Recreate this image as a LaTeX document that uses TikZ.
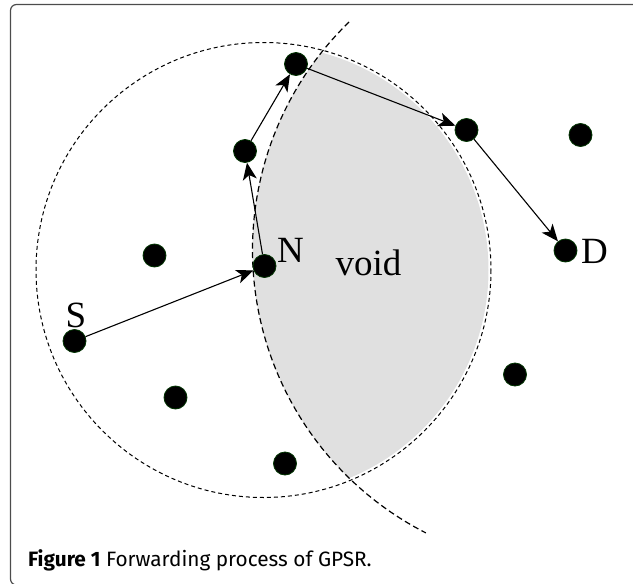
\documentclass[tikz,border=0pt]{standalone}
\usepackage{fontspec}
\setmainfont{Liberation Serif}
\newfontfamily\capfont{Fira Sans}
\usetikzlibrary{arrows.meta}
\begin{document}
\begin{tikzpicture}[
    x=1pt, y=-1pt,
    dot/.style={circle, fill=black, draw=green!20!black, line width=0.8pt,
                minimum size=23pt, inner sep=0pt},
    lbl/.style={font=\fontsize{37}{37}\selectfont, anchor=base, inner sep=0pt},
    hop/.style={-{Stealth[length=17pt, width=14pt, inset=4.5pt]}, line width=1.1pt},
    radio/.style={dash pattern=on 4pt off 3pt, line width=1pt},
    bound/.style={dash pattern=on 6pt off 3.5pt, line width=1.2pt},
]
\useasboundingbox (0,0) rectangle (633,584);
\begin{scope}
  \clip (0,0) rectangle (633,584);
  \draw[gray!60!black, line width=1.2pt, rounded corners=6pt] (10.5,4.5) rectangle (660,585);
\end{scope}
\begin{scope}
  \clip (263.5,270) circle[radius=225];
  \fill[gray!24] (570,250) circle[radius=317.5];
\end{scope}
\draw[radio] (263.5,270) circle[radius=227.5];
\draw[bound] (570,250) ++(225.9:317.5) arc[start angle=225.9, end angle=117, radius=317.5];
\node[dot] (s) at (74.5,341) {};
\node[dot] (n) at (264.5,266) {};
\node[dot] (h1) at (245,151) {};
\node[dot] (h2) at (296,64) {};
\node[dot] (h3) at (466.5,130) {};
\node[dot] (d) at (565.5,250.5) {};
\node[dot] (o1) at (580.5,135) {};
\node[dot] (o2) at (154.5,255.5) {};
\node[dot] (o3) at (175.5,397.5) {};
\node[dot] (o4) at (285,463.5) {};
\node[dot] (o5) at (515,374.5) {};
\draw[hop] (s) -- (n);
\draw[hop] (n) -- (h1);
\draw[hop] (h1) -- (h2);
\draw[hop] (h2) -- (h3);
\draw[hop] (h3) -- (d);
\node[lbl] (ls) at (76,327) {S};
\node[lbl] (ln) at (290.5,262) {N};
\node[lbl] (ld) at (594.5,263) {D};
\node[lbl] (lv) at (368.5,275) {void};
\node[font=\capfont\fontsize{20.8}{20.8}\selectfont, anchor=base west, inner sep=0pt]
   (cap) at (28,566) {\textbf{Figure 1} Forwarding process of GPSR.};
\end{tikzpicture}
\end{document}
